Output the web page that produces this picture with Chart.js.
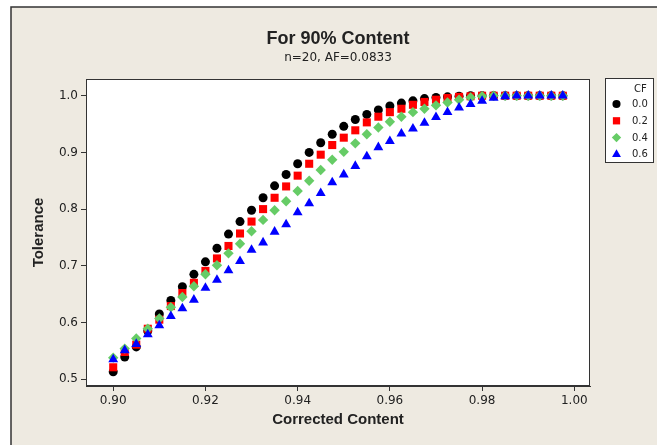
<!DOCTYPE html>
<html>
<head>
<meta charset="utf-8">
<script src="https://cdn.jsdelivr.net/npm/chart.js@4/dist/chart.umd.min.js"></script>
<style>
  html, body { margin: 0; padding: 0; background: #fff; }
  #wrap { position: relative; width: 657px; height: 445px; }
</style>
</head>
<body>
<div id="wrap"><canvas id="toleranceChart" width="657" height="445"></canvas></div>
<script>
// corrected content (x) and tolerance for each CF value
const content = [0.9000, 0.9025, 0.9050, 0.9075, 0.9100, 0.9125, 0.9150, 0.9175, 0.9200, 0.9225,
                 0.9250, 0.9275, 0.9300, 0.9325, 0.9350, 0.9375, 0.9400, 0.9425, 0.9450, 0.9475,
                 0.9500, 0.9525, 0.9550, 0.9575, 0.9600, 0.9625, 0.9650, 0.9675, 0.9700, 0.9725,
                 0.9750, 0.9775, 0.9800, 0.9825, 0.9850, 0.9875, 0.9900, 0.9925, 0.9950, 0.9975];
const cf00 = [0.513, 0.539, 0.557, 0.585, 0.615, 0.639, 0.663, 0.685, 0.707, 0.731,
              0.756, 0.778, 0.798, 0.820, 0.841, 0.861, 0.880, 0.900, 0.917, 0.932,
              0.946, 0.958, 0.967, 0.975, 0.982, 0.987, 0.991, 0.995, 0.997, 0.998,
              0.999, 1.000, 1.000, 1.000, 1.000, 1.000, 1.000, 1.000, 1.000, 1.000];
const cf02 = [0.521, 0.548, 0.561, 0.589, 0.605, 0.629, 0.652, 0.670, 0.691, 0.713,
              0.735, 0.757, 0.778, 0.800, 0.820, 0.840, 0.859, 0.880, 0.896, 0.913,
              0.926, 0.939, 0.953, 0.963, 0.971, 0.977, 0.984, 0.989, 0.993, 0.996,
              0.998, 0.999, 1.000, 1.000, 1.000, 1.000, 1.000, 1.000, 1.000, 1.000];
const cf04 = [0.538, 0.554, 0.572, 0.589, 0.607, 0.627, 0.645, 0.664, 0.685, 0.701,
              0.722, 0.739, 0.761, 0.781, 0.798, 0.814, 0.832, 0.850, 0.869, 0.887,
              0.901, 0.916, 0.932, 0.944, 0.954, 0.963, 0.971, 0.977, 0.983, 0.988,
              0.993, 0.997, 0.999, 1.000, 1.000, 1.000, 1.000, 1.000, 1.000, 1.000];
const cf06 = [0.535, 0.551, 0.562, 0.579, 0.595, 0.611, 0.625, 0.640, 0.661, 0.675,
              0.692, 0.708, 0.728, 0.741, 0.760, 0.773, 0.794, 0.810, 0.828, 0.847,
              0.861, 0.876, 0.893, 0.909, 0.920, 0.933, 0.942, 0.952, 0.962, 0.971,
              0.979, 0.985, 0.991, 0.996, 0.999, 1.000, 1.000, 1.000, 1.000, 1.000];

const cfLabels = ['0.0', '0.2', '0.4', '0.6'];
const xTicks = [0.90, 0.92, 0.94, 0.96, 0.98, 1.00];
const yTicks = [0.5, 0.6, 0.7, 0.8, 0.9, 1.0];

const series = [cf00, cf02, cf04, cf06];
const colors = ['#000000', '#ff0000', '#66cc66', '#0000ff'];
const styles = ['circle', 'rect', 'rectRot', 'triangle'];
const radii = [4.5, 5.7, 5.2, 5.7];

const ink = '#222222';
const beige = '#eeeae1';

const toPoints = vals => vals.map((v, i) => ({ x: content[i], y: v }));

// page frame, white plot area, plot border
const framePlugin = {
    id: 'frame',
    beforeDraw(chart) {
        const c = chart.ctx, a = chart.chartArea;
        c.save();
        c.fillStyle = '#ffffff';
        c.fillRect(0, 0, chart.width, chart.height);
        c.fillStyle = beige;
        c.fillRect(11, 7, chart.width - 11, chart.height - 7);
        c.strokeStyle = '#333';
        c.lineWidth = 1.5;
        c.beginPath();
        c.moveTo(11, chart.height);
        c.lineTo(11, 7);
        c.lineTo(chart.width, 7);
        c.stroke();
        c.fillStyle = '#ffffff';
        c.fillRect(a.left, a.top, a.right - a.left, a.bottom - a.top);
        c.restore();
    },
    afterDraw(chart) {
        const c = chart.ctx, a = chart.chartArea;
        c.save();
        c.strokeStyle = '#333';
        c.lineWidth = 1;
        c.strokeRect(Math.round(a.left) + 0.5, Math.round(a.top) + 0.5,
                     Math.round(a.right - a.left) - 1, Math.round(a.bottom - a.top) - 1);
        c.restore();
    }
};

// boxed legend on the right, like the original
const cfLegend = {
    id: 'cfLegend',
    afterDraw(chart) {
        const c = chart.ctx;
        const bx = 605, by = 78, bw = 49, bh = 85;
        c.save();
        c.fillStyle = '#ffffff';
        c.fillRect(bx, by, bw, bh);
        c.strokeStyle = '#333';
        c.lineWidth = 1;
        c.strokeRect(bx + 0.5, by + 0.5, bw - 1, bh - 1);
        c.fillStyle = ink;
        c.font = '10px "DejaVu Sans"';
        c.textBaseline = 'middle';
        c.textAlign = 'left';
        c.fillText('CF', 634, 89);
        cfLabels.forEach((lab, i) => {
            const y = 104 + i * 16.8;
            c.fillStyle = colors[i];
            c.strokeStyle = colors[i];
            Chart.helpers.drawPoint(c, { pointStyle: styles[i], radius: radii[i] * 0.9, rotation: 0, borderWidth: 0 }, 616.5, y);
            c.fillStyle = ink;
            c.fillText(lab, 632, y + 0.5);
        });
        c.restore();
    }
};

const ctx = document.getElementById('toleranceChart').getContext('2d');

const toleranceChart = new Chart(ctx, {
    type: 'scatter',
    data: {
        datasets: series.map((vals, i) => ({
            label: cfLabels[i],
            data: toPoints(vals),
            pointStyle: styles[i],
            pointRadius: radii[i],
            pointHoverRadius: radii[i],
            backgroundColor: colors[i],
            borderColor: colors[i],
            borderWidth: 0,
            order: 4 - i
        }))
    },
    options: {
        responsive: false,
        animation: false,
        events: [],
        layout: {
            autoPadding: false,
            padding: { left: 0, top: 0, right: 67, bottom: 0 }
        },
        plugins: {
            legend: { display: false },
            tooltip: { enabled: false },
            title: {
                display: true,
                fullSize: false,
                text: 'For 90% Content',
                color: ink,
                font: { family: '"Liberation Sans", Arial, sans-serif', size: 18, weight: 'bold', lineHeight: 1.2 },
                padding: { top: 28.2, bottom: 0 }
            },
            subtitle: {
                display: true,
                fullSize: false,
                text: 'n=20, AF=0.0833',
                color: ink,
                font: { family: '"DejaVu Sans", sans-serif', size: 12, lineHeight: 1.2 },
                padding: { top: 1, bottom: 13.8 }
            }
        },
        scales: {
            x: {
                type: 'linear',
                min: 0.8941,
                max: 1.0034,
                afterFit(scale) { scale.height = 59; },
                afterBuildTicks(scale) { scale.ticks = xTicks.map(v => ({ value: v })); },
                grid: { display: true, drawOnChartArea: false, drawTicks: true, tickLength: 5, color: '#333' },
                border: { display: true, color: '#333' },
                ticks: {
                    color: ink,
                    padding: 3,
                    maxRotation: 0,
                    font: { family: '"DejaVu Sans", sans-serif', size: 12 },
                    callback: v => Number(v).toFixed(2)
                },
                title: {
                    display: true,
                    text: 'Corrected Content',
                    color: ink,
                    font: { family: '"Liberation Sans", Arial, sans-serif', size: 15, weight: 'bold', lineHeight: 1.2 },
                    padding: { top: 4, bottom: 16 }
                }
            },
            y: {
                type: 'linear',
                min: 0.488,
                max: 1.0295,
                afterFit(scale) { scale.width = 86; },
                afterBuildTicks(scale) { scale.ticks = yTicks.map(v => ({ value: v })); },
                grid: { display: true, drawOnChartArea: false, drawTicks: true, tickLength: 5, color: '#333' },
                border: { display: true, color: '#333' },
                ticks: {
                    color: ink,
                    padding: 3,
                    font: { family: '"DejaVu Sans", sans-serif', size: 12 },
                    callback: v => Number(v).toFixed(1)
                },
                title: {
                    display: true,
                    text: 'Tolerance',
                    color: ink,
                    font: { family: '"Liberation Sans", Arial, sans-serif', size: 15, weight: 'bold', lineHeight: 1.2 },
                    padding: { top: 30, bottom: 4 }
                }
            }
        }
    },
    plugins: [framePlugin, cfLegend]
});
</script>
</body>
</html>
